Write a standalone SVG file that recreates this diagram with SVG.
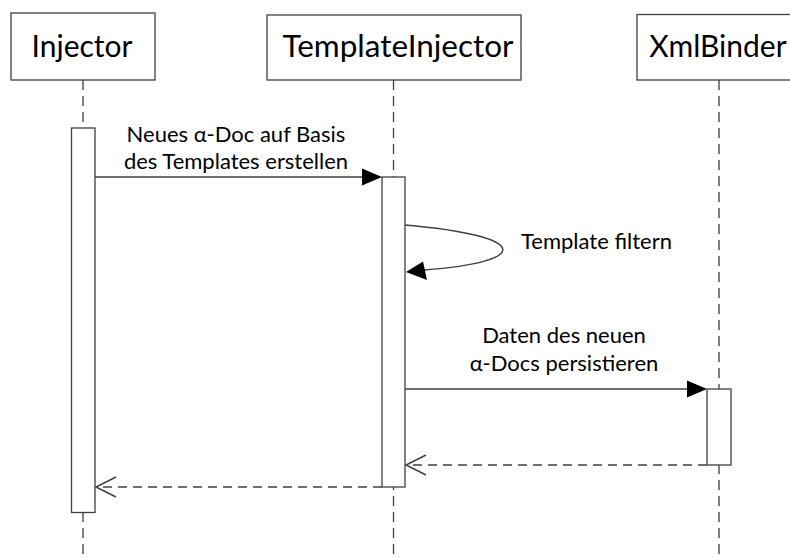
<svg xmlns="http://www.w3.org/2000/svg" width="790" height="558" viewBox="0 0 790 558">
<style>
.box{fill:#fff;stroke:#404040;stroke-width:1.3}
.act{fill:#fff;stroke:#404040;stroke-width:1.3}
.life{stroke:#404040;stroke-width:1.3;stroke-dasharray:10,6;fill:none}
.msg{stroke:#404040;stroke-width:1.5;fill:none}
.ret{stroke:#404040;stroke-width:1.5;fill:none;stroke-dasharray:9,6}
.title{font-family:Lato,"Open Sans",sans-serif;font-size:30px;fill:#000;text-anchor:middle}
.lbl{font-family:Lato,"Open Sans",sans-serif;font-size:22px;fill:#000;text-anchor:middle}
</style>
<rect width="790" height="558" fill="#fff"/>
<g id="lifelines">
<line class="life" x1="83" y1="80" x2="83" y2="558"/>
<line class="life" x1="393.5" y1="80" x2="393.5" y2="558"/>
<line class="life" x1="719" y1="80" x2="719" y2="558"/>
</g>
<g id="injector">
<rect class="box" x="11" y="13" width="144" height="67"/>
<text class="title" x="82" y="57">Injector</text>
<rect class="act" x="71.5" y="128" width="23.5" height="384.5"/>
</g>
<g id="templateinjector">
<rect class="box" x="267" y="15" width="254" height="65"/>
<text class="title" x="398" y="57" style="font-size:31.5px">TemplateInjector</text>
<rect class="act" x="382" y="177" width="23" height="310"/>
</g>
<g id="xmlbinder">
<rect class="box" x="637" y="14.5" width="160" height="65.5"/>
<text class="title" x="718" y="57">XmlBinder</text>
<rect class="act" x="707" y="389" width="24" height="76"/>
</g>
<g id="connectors">
<line class="msg" x1="95" y1="177" x2="364" y2="177"/>
<polygon points="382,177 362,168.5 362,185.5" fill="#000"/>
<path class="msg" d="M405,225 C532,236 532,262 424,270" stroke-width="1.3"/>
<polygon points="406,272 423,261.5 427,280" fill="#000"/>
<line class="msg" x1="405" y1="389" x2="690" y2="389"/>
<polygon points="707,389 687,380.5 687,397.5" fill="#000"/>
<line class="ret" x1="707" y1="465" x2="406" y2="465"/>
<polyline class="msg" points="426,455 406,465 426,475" stroke-width="1.3"/>
<line class="ret" x1="382" y1="487" x2="96" y2="487"/>
<polyline class="msg" points="116,477 96,487 116,497" stroke-width="1.3"/>
</g>
<g id="labels">
<text class="lbl" x="236" y="141.5">Neues α-Doc auf Basis</text>
<text class="lbl" x="236" y="169">des Templates erstellen</text>
<text class="lbl" x="521" y="249" style="text-anchor:start">Template filtern</text>
<text class="lbl" x="564" y="342.5">Daten des neuen</text>
<text class="lbl" x="564" y="371">α-Docs persistieren</text>
</g>
</svg>
